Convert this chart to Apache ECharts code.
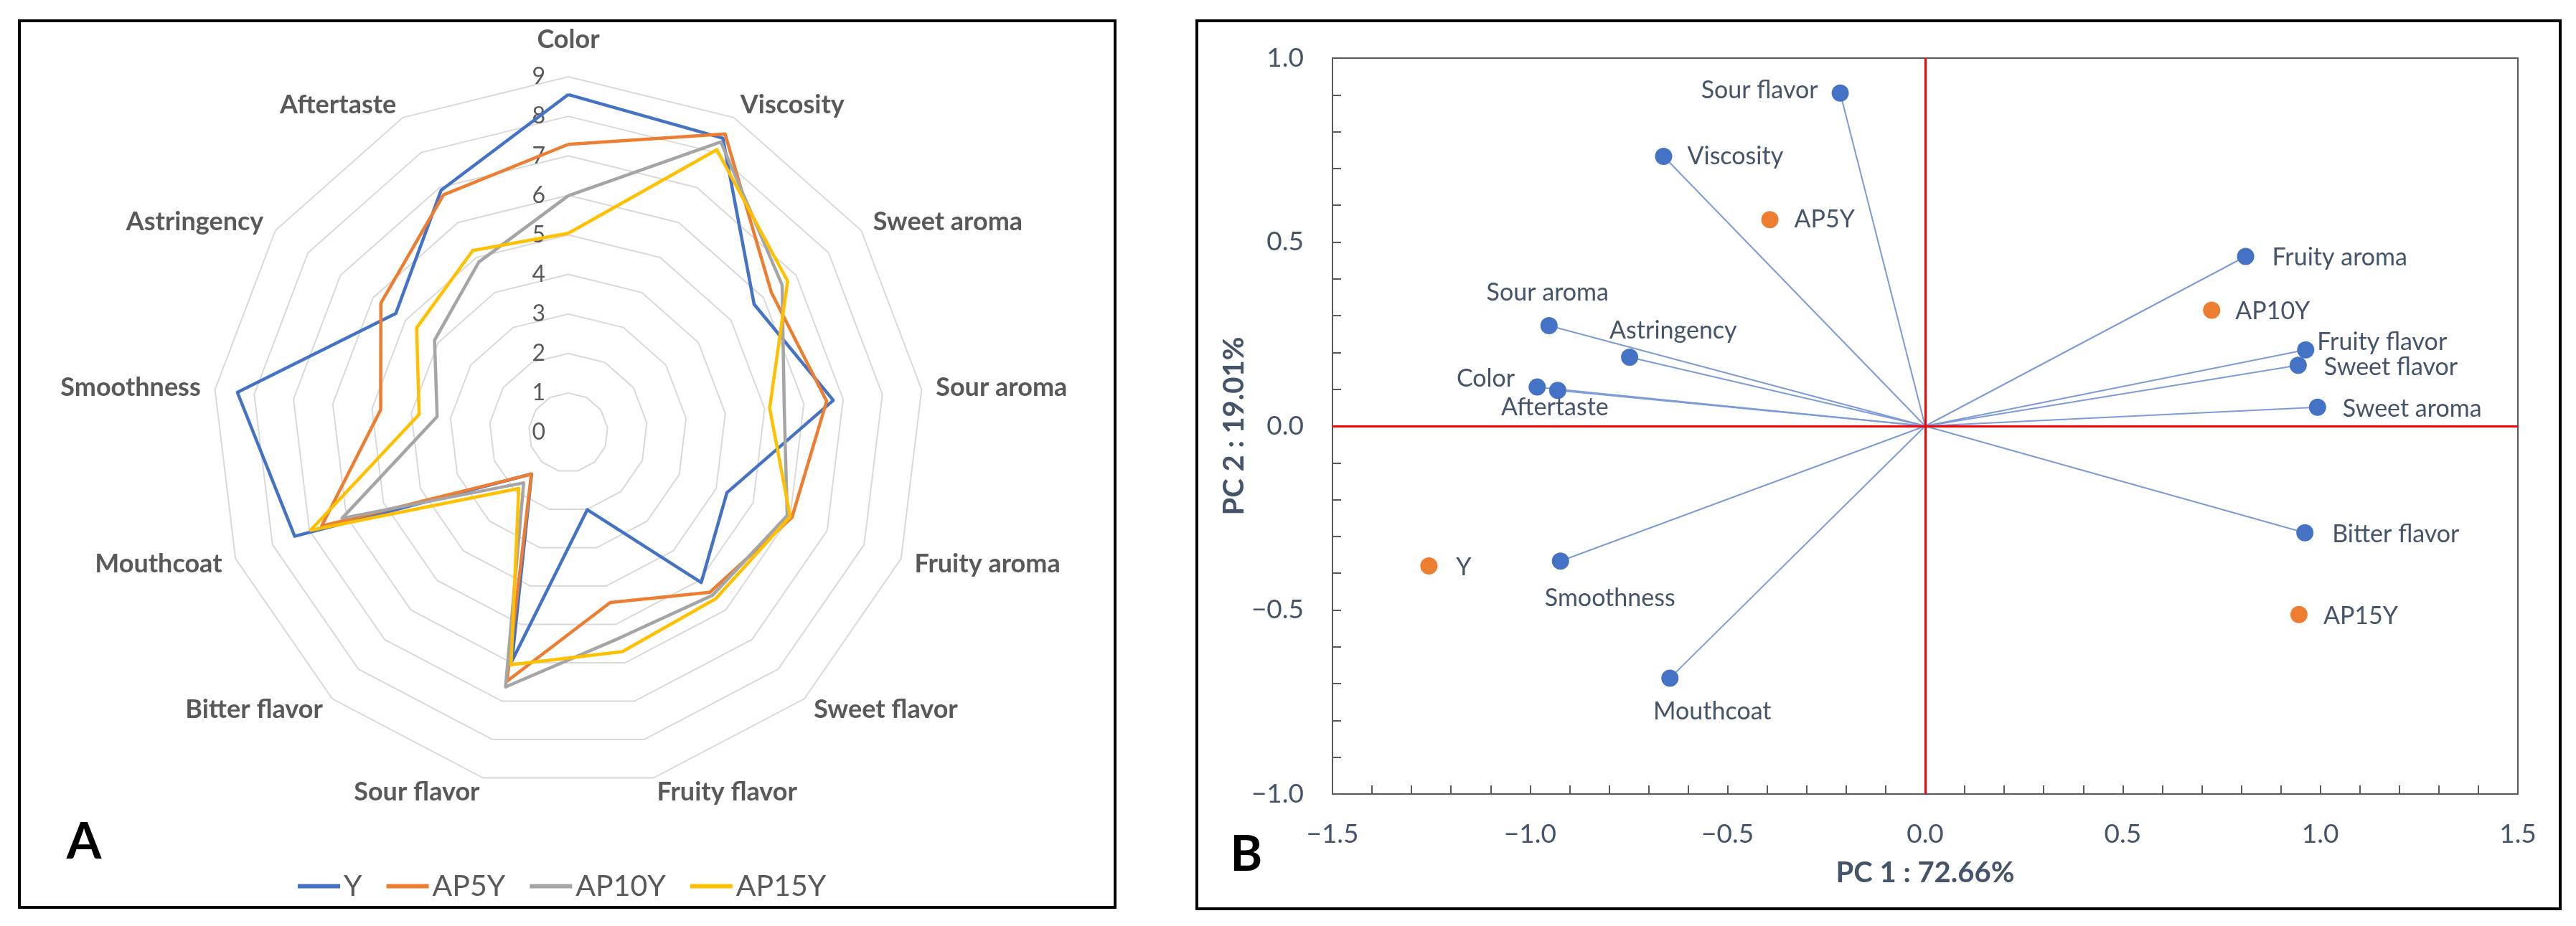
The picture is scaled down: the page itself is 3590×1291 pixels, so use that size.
<!DOCTYPE html>
<html><head><meta charset="utf-8">
<script src="https://cdn.jsdelivr.net/npm/echarts@6/dist/echarts.min.js"></script>
<style>html,body{margin:0;padding:0;background:#fff}#c{width:3590px;height:1291px}</style>
</head><body><div id="c"></div>
<script>
// ---------- Panel A: sensory radar ----------
const attributes = ['Color','Viscosity','Sweet aroma','Sour aroma','Fruity aroma','Sweet flavor','Fruity flavor','Sour flavor','Bitter flavor','Mouthcoat','Smoothness','Astringency','Aftertaste'];
const samples = ['Y','AP5Y','AP10Y','AP15Y'];
const scoresY     = [8.55, 8.41, 5.71, 6.75, 4.29, 5.07, 2.01, 5.95, 1.40, 7.40, 8.43, 5.30, 6.92];
const scoresAP5Y  = [7.29, 8.53, 6.24, 6.58, 6.05, 5.40, 4.43, 6.48, 1.41, 6.67, 4.78, 5.76, 6.79];
const scoresAP10Y = [5.99, 8.30, 6.57, 5.50, 5.92, 5.50, 5.36, 6.63, 1.70, 6.12, 3.34, 4.11, 4.87];
const scoresAP15Y = [5.04, 8.08, 6.74, 5.13, 6.00, 5.62, 5.71, 6.05, 1.89, 6.97, 3.80, 4.66, 5.20];
const radarMax = 9;

// ---------- Panel B: PCA biplot ----------
const variables = ['Sour flavor','Viscosity','Fruity aroma','Fruity flavor','Sweet flavor','Sweet aroma','Bitter flavor','Sour aroma','Astringency','Color','Aftertaste','Smoothness','Mouthcoat'];
const varPC1 = [-0.215, -0.662, 0.811, 0.963, 0.944, 0.993, 0.961, -0.952, -0.748, -0.982, -0.930, -0.923, -0.646];
const varPC2 = [ 0.905,  0.733, 0.461, 0.207, 0.165, 0.051, -0.290, 0.273, 0.187, 0.106, 0.097, -0.367, -0.685];
const sampleNames = ['Y','AP5Y','AP10Y','AP15Y'];
const samplePC1 = [-1.256, -0.393, 0.725, 0.946];
const samplePC2 = [-0.380,  0.561, 0.315, -0.512];
const pc1Title = 'PC 1 : 72.66%';
const pc2Title = 'PC 2 : 19.01%';

// label placement (style only): [align, dx, dy]
const labelPlace = {
  'Sour flavor': ['right', -31, -4], 'Viscosity': ['left', 33, 0], 'Fruity aroma': ['left', 37, 2],
  'Fruity flavor': ['left', 16, -11], 'Sweet flavor': ['left', 36, 3], 'Sweet aroma': ['left', 35, 2],
  'Bitter flavor': ['left', 38, 2], 'Sour aroma': ['center', -2, -46], 'Astringency': ['left', -28, -37],
  'Color': ['right', -31, -12], 'Aftertaste': ['center', -4, 24], 'Smoothness': ['center', 69, 52],
  'Mouthcoat': ['center', 59, 47],
  'Y': ['left', 38, 2], 'AP5Y': ['left', 34, 0], 'AP10Y': ['left', 33, 2], 'AP15Y': ['left', 34, 2]
};

const FONT = 'Lato';
const seriesColors = ['#4472C4', '#ED7D31', '#A5A5A5', '#FFC000'];
const allScores = [scoresY, scoresAP5Y, scoresAP10Y, scoresAP15Y];
// Excel draws clockwise; ECharts radar goes counter-clockwise -> reverse after first
const order = [0].concat(attributes.map((_, i) => i).slice(1).reverse());

function lbl(name) {
  const p = labelPlace[name];
  return { show: true, position: 'inside', align: p[0], verticalAlign: 'middle', offset: [p[1], p[2]],
           formatter: name, color: '#44546A', fontSize: 34, fontFamily: FONT };
}
const fmt = v => (Math.abs(v) < 1e-9 ? 0 : v).toFixed(1).replace('-', '\u2212');

const chart = echarts.init(document.getElementById('c'), null, { renderer: 'canvas' });
chart.setOption({
  animation: false,
  backgroundColor: '#fff',
  textStyle: { fontFamily: FONT },
  legend: {
    data: samples, left: 410, top: 1210, itemWidth: 59, itemHeight: 6, itemGap: 34, icon: 'rect',
    textStyle: { fontSize: 41, color: '#595959', fontFamily: FONT }
  },
  radar: {
    center: [792, 603], radius: 496, startAngle: 90, shape: 'polygon', splitNumber: 9,
    nameGap: 20,
    axisName: { color: '#595959', fontSize: 36, fontWeight: 'bold', fontFamily: FONT },
    indicator: order.map((k, j) => {
      const o = { name: attributes[k], min: 0, max: radarMax };
      if (j === 0) { o.axisLabel = { show: true }; o.nameTextStyle = { padding: [0, 0, 14, 0] }; }
      return o;
    }),
    splitLine: { lineStyle: { color: '#d9d9d9', width: 2 } },
    splitArea: { show: false },
    axisLine: { show: false },
    axisTick: { show: false },
    axisLabel: { show: false, color: '#595959', fontSize: 32, fontFamily: FONT, margin: 32 }
  },
  grid: { left: 1857, right: 81, top: 81, bottom: 184, show: true, borderColor: '#595959', borderWidth: 2 },
  xAxis: {
    type: 'value', min: -1.5, max: 1.5, interval: 0.5,
    axisLine: { onZero: false, lineStyle: { color: '#595959', width: 2 } },
    axisTick: { inside: true, length: 12, lineStyle: { color: '#595959', width: 2 } },
    minorTick: { show: true, splitNumber: 5, length: 12, lineStyle: { color: '#595959', width: 2 } },
    splitLine: { show: false },
    axisLabel: { formatter: fmt, fontSize: 37, color: '#44546A', margin: 38, fontFamily: FONT },
    name: pc1Title, nameLocation: 'middle', nameGap: 90,
    nameTextStyle: { fontSize: 40, fontWeight: 'bold', color: '#44546A', fontFamily: FONT }
  },
  yAxis: {
    type: 'value', min: -1.0, max: 1.0, interval: 0.5,
    axisLine: { onZero: false, lineStyle: { color: '#595959', width: 2 } },
    axisTick: { inside: true, length: 12, lineStyle: { color: '#595959', width: 2 } },
    minorTick: { show: true, splitNumber: 5, length: 12, lineStyle: { color: '#595959', width: 2 } },
    splitLine: { show: false },
    axisLabel: { formatter: fmt, fontSize: 37, color: '#44546A', margin: 40, fontFamily: FONT },
    name: pc2Title, nameLocation: 'middle', nameGap: 108,
    nameTextStyle: { fontSize: 40, fontWeight: 'bold', color: '#44546A', fontFamily: FONT }
  },
  graphic: [
    { type: 'rect', shape: { x: 27, y: 29, width: 1527, height: 1236 }, style: { fill: 'none', stroke: '#000', lineWidth: 4 }, z: 100 },
    { type: 'rect', shape: { x: 1668, y: 29, width: 1900, height: 1238 }, style: { fill: 'none', stroke: '#000', lineWidth: 4 }, z: 100 },
    { type: 'text', x: 117, y: 1174, style: { text: 'A', fontSize: 70, fontWeight: 'bold', fontFamily: FONT, fill: '#000', align: 'center', verticalAlign: 'middle' } },
    { type: 'text', x: 1737, y: 1192, style: { text: 'B', fontSize: 68, fontWeight: 'bold', fontFamily: FONT, fill: '#000', align: 'center', verticalAlign: 'middle' } }
  ],
  series: [
    {
      type: 'radar', symbol: 'none',
      data: samples.map((s, i) => ({
        name: s, value: order.map(k => allScores[i][k]),
        lineStyle: { color: seriesColors[i], width: 4.5 },
        itemStyle: { color: seriesColors[i] }
      }))
    },
    {
      type: 'scatter', name: 'axes0', symbolSize: 0, data: [],
      markLine: { silent: true, symbol: 'none', label: { show: false },
        lineStyle: { color: '#FF0000', width: 3, type: 'solid' },
        data: [{ xAxis: 0 }, { yAxis: 0 }] }, z: 1
    },
    {
      type: 'lines', coordinateSystem: 'cartesian2d', silent: true, z: 2,
      lineStyle: { color: '#7B9BD9', width: 2, opacity: 1 },
      data: variables.map((n, i) => ({ coords: [[0, 0], [varPC1[i], varPC2[i]]] }))
    },
    {
      type: 'scatter', name: 'Attributes', symbolSize: 24, z: 3,
      itemStyle: { color: '#4472C4', opacity: 1 },
      data: variables.map((n, i) => ({ name: n, value: [varPC1[i], varPC2[i]], label: lbl(n) }))
    },
    {
      type: 'scatter', name: 'Samples', symbolSize: 24, z: 3,
      itemStyle: { color: '#ED7D31', opacity: 1 },
      data: sampleNames.map((n, i) => ({ name: n, value: [samplePC1[i], samplePC2[i]], label: lbl(n) }))
    }
  ]
});
</script></body></html>
